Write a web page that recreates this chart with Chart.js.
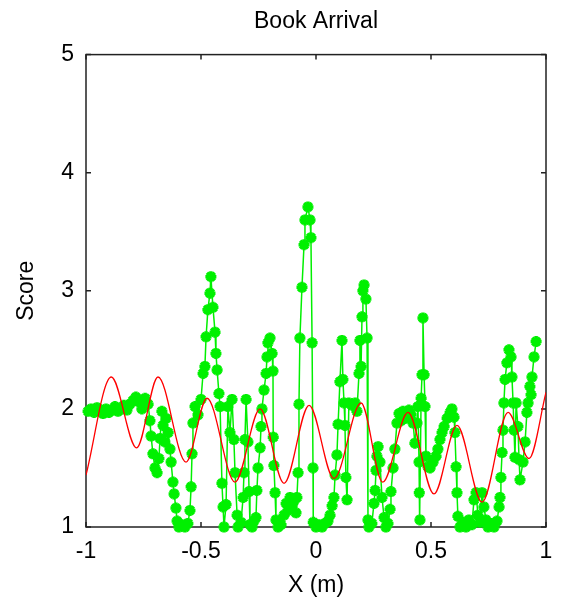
<!DOCTYPE html>
<html>
<head>
<meta charset="utf-8">
<script src="https://cdn.jsdelivr.net/npm/chart.js@4.4.1/dist/chart.umd.min.js"></script>
<style>
  html, body { margin: 0; padding: 0; background: #fff; }
  #wrap { width: 566px; height: 610px; }
</style>
</head>
<body>
<div id="wrap"><canvas id="chart" width="566" height="610"></canvas></div>
<script>
// measured scores (green, star markers)
const scoreX = [
  -0.991, -0.978, -0.965, -0.952, -0.939, -0.926, -0.913, -0.900, -0.887, -0.874,
  -0.861, -0.848, -0.835, -0.822, -0.809, -0.796, -0.783, -0.770, -0.757, -0.743,
  -0.730, -0.722, -0.717, -0.709, -0.700, -0.691, -0.683, -0.678, -0.670, -0.665,
  -0.657, -0.652, -0.643, -0.635, -0.630, -0.622, -0.617, -0.609, -0.604, -0.596,
  -0.583, -0.570, -0.557, -0.548, -0.543, -0.539, -0.535, -0.526, -0.513, -0.500,
  -0.491, -0.483, -0.478, -0.470, -0.461, -0.457, -0.448, -0.439, -0.435, -0.430,
  -0.422, -0.417, -0.409, -0.404, -0.400, -0.391, -0.383, -0.374, -0.365, -0.357,
  -0.352, -0.343, -0.339, -0.326, -0.317, -0.313, -0.309, -0.304, -0.296, -0.291,
  -0.287, -0.278, -0.270, -0.261, -0.257, -0.252, -0.243, -0.239, -0.235, -0.226,
  -0.217, -0.213, -0.209, -0.200, -0.191, -0.187, -0.186, -0.183, -0.178, -0.174,
  -0.165, -0.152, -0.139, -0.130, -0.122, -0.113, -0.104, -0.096, -0.087, -0.083,
  -0.078, -0.074, -0.070, -0.061, -0.052, -0.048, -0.035, -0.026, -0.022, -0.017,
  -0.013, -0.012, 0.000, 0.013, 0.026, 0.039, 0.052, 0.061, 0.070, 0.078,
  0.083, 0.091, 0.096, 0.104, 0.113, 0.117, 0.122, 0.126, 0.130, 0.135,
  0.143, 0.157, 0.170, 0.178, 0.187, 0.191, 0.196, 0.200, 0.204, 0.209,
  0.217, 0.222, 0.226, 0.230, 0.243, 0.252, 0.257, 0.261, 0.265, 0.270,
  0.278, 0.287, 0.296, 0.304, 0.313, 0.322, 0.326, 0.335, 0.343, 0.352,
  0.361, 0.370, 0.378, 0.391, 0.404, 0.413, 0.422, 0.430, 0.439, 0.443,
  0.448, 0.449, 0.452, 0.457, 0.461, 0.465, 0.470, 0.474, 0.478, 0.487,
  0.496, 0.509, 0.522, 0.530, 0.539, 0.548, 0.557, 0.570, 0.583, 0.591,
  0.600, 0.604, 0.609, 0.613, 0.617, 0.626, 0.639, 0.652, 0.665, 0.678,
  0.687, 0.696, 0.704, 0.713, 0.722, 0.730, 0.739, 0.748, 0.761, 0.774,
  0.787, 0.796, 0.800, 0.804, 0.809, 0.813, 0.817, 0.822, 0.830, 0.839,
  0.848, 0.852, 0.857, 0.861, 0.865, 0.870, 0.878, 0.883, 0.887, 0.900,
  0.909, 0.917, 0.922, 0.930, 0.935, 0.939, 0.948, 0.957
];
const scoreY = [
  1.98, 2.00, 1.97, 2.01, 1.99, 1.96, 2.00, 1.97, 1.99, 2.02,
  1.98, 2.00, 2.03, 1.99, 2.04, 2.07, 2.10, 2.06, 2.00, 2.09,
  2.04, 1.90, 1.77, 1.62, 1.50, 1.46, 1.58, 1.75, 1.98, 1.86,
  1.72, 1.92, 1.80, 1.66, 1.55, 1.38, 1.28, 1.16, 1.05, 1.00,
  1.02, 1.00, 1.03, 1.14, 1.34, 1.62, 1.88, 2.02, 1.95, 2.08,
  2.30, 2.36, 2.61, 2.84, 2.98, 3.12, 2.86, 2.65, 2.47, 2.33,
  2.13, 2.02, 1.37, 1.17, 1.00, 1.19, 2.02, 1.80, 2.08, 1.74,
  1.46, 1.10, 1.00, 1.04, 1.25, 1.46, 1.74, 2.08, 1.72, 1.30,
  1.02, 1.00, 1.05, 1.08, 1.31, 1.50, 1.67, 1.85, 2.00, 2.16,
  2.30, 2.44, 2.56, 2.60, 2.47, 2.32, 1.76, 1.52, 1.29, 1.06,
  1.00, 1.02, 1.10, 1.20, 1.14, 1.25, 1.18, 1.22, 1.12, 1.25,
  1.46, 2.04, 2.60, 3.03, 3.39, 3.60, 3.71, 3.60, 3.45, 2.56,
  1.50, 1.04, 1.00, 1.02, 1.00, 1.03, 1.05, 1.10, 1.18, 1.25,
  1.44, 1.61, 1.87, 2.23, 2.58, 2.25, 2.05, 1.86, 1.42, 1.23,
  2.05, 2.03, 2.05, 1.98, 2.30, 2.58, 2.36, 2.78, 3.00, 3.05,
  2.93, 2.60, 1.06, 1.00, 1.03, 1.20, 1.31, 1.48, 1.60, 1.68,
  1.55, 1.25, 1.08, 1.00, 1.03, 1.15, 1.30, 1.50, 1.66, 1.88,
  1.96, 1.90, 1.98, 1.92, 1.99, 1.95, 1.88, 1.71, 1.88, 2.02,
  1.55, 1.29, 1.06, 2.09, 2.29, 2.77, 2.29, 2.02, 1.60, 1.51,
  1.50, 1.55, 1.60, 1.66, 1.74, 1.80, 1.85, 1.92, 1.97, 2.00,
  1.93, 1.80, 1.51, 1.29, 1.09, 1.00, 1.04, 1.00, 1.06, 1.02,
  1.23, 1.29, 1.10, 1.04, 1.29, 1.17, 1.06, 1.00, 1.03, 1.00,
  1.05, 1.17, 1.25, 1.42, 1.63, 1.82, 2.05, 2.25, 2.39, 2.50,
  2.44, 2.27, 2.05, 1.82, 1.59, 2.05, 1.85, 1.57, 1.40, 1.55,
  1.72, 1.97, 2.05, 2.19, 2.12, 2.27, 2.44, 2.57
];

// fitted curve (red) – turning points
const fitX = [-1.0, -0.89, -0.78, -0.687, -0.565, -0.474, -0.352, -0.243, -0.139, -0.03,
              0.078, 0.196, 0.29, 0.40, 0.513, 0.613, 0.722, 0.835, 0.926, 1.0];
const fitY = [1.44, 2.27, 1.67, 2.27, 1.55, 2.09, 1.38, 2.00, 1.37, 2.03,
              1.41, 2.05, 1.38, 1.97, 1.28, 1.86, 1.21, 1.97, 1.58, 2.14];

const xTicks = [-1, -0.5, 0, 0.5, 1];
const yTicks = [1, 2, 3, 4, 5];

const FONT = "'Liberation Sans', Arial, sans-serif";
const GREEN = '#00f000';

// black box round the plot with inward ticks, like the original
const framePlugin = {
  id: 'frame',
  beforeDatasetsDraw(chart) {
    const { ctx, chartArea: a, scales: { x, y } } = chart;
    ctx.save();
    ctx.strokeStyle = '#222';
    ctx.lineWidth = 1.5;
    ctx.strokeRect(a.left, a.top, a.right - a.left, a.bottom - a.top);
    ctx.beginPath();
    xTicks.forEach(v => {
      const px = x.getPixelForValue(v);
      ctx.moveTo(px, a.bottom); ctx.lineTo(px, a.bottom - 5);
      ctx.moveTo(px, a.top); ctx.lineTo(px, a.top + 5);
    });
    yTicks.forEach(v => {
      const py = y.getPixelForValue(v);
      ctx.moveTo(a.left, py); ctx.lineTo(a.left + 5, py);
      ctx.moveTo(a.right, py); ctx.lineTo(a.right - 5, py);
    });
    ctx.stroke();
    ctx.restore();
  }
};

new Chart(document.getElementById('chart'), {
  type: 'scatter',
  data: {
    datasets: [
      {
        label: 'fit',
        data: fitX.map((v, i) => ({ x: v, y: fitY[i] })),
        showLine: true,
        borderColor: '#ff0000',
        borderWidth: 1.3,
        pointRadius: 0,
        cubicInterpolationMode: 'monotone',
        order: 0
      },
      {
        label: 'score',
        data: scoreX.map((v, i) => ({ x: v, y: scoreY[i] })),
        showLine: true,
        borderColor: GREEN,
        backgroundColor: GREEN,
        borderWidth: 1.5,
        pointStyle: 'star',
        pointRadius: 5.5,
        pointBorderWidth: 3.5,
        pointBorderColor: GREEN,
        pointBackgroundColor: GREEN,
        clip: false,
        order: 1
      }
    ]
  },
  options: {
    responsive: false,
    animation: false,
    layout: { padding: { right: 20, left: 0, top: 0, bottom: 0 } },
    plugins: {
      legend: { display: false },
      tooltip: { enabled: false },
      title: {
        display: true,
        fullSize: false,
        text: 'Book Arrival',
        color: '#000',
        font: { family: FONT, size: 23, weight: 'normal' },
        padding: { top: 8, bottom: 19 }
      }
    },
    scales: {
      x: {
        type: 'linear',
        min: -1, max: 1,
        afterBuildTicks: s => { s.ticks = xTicks.map(v => ({ value: v })); },
        afterFit: s => { s.height = 83; },
        grid: { display: false, drawTicks: false },
        border: { display: false },
        ticks: {
          color: '#000',
          padding: 11,
          font: { family: FONT, size: 23 },
          callback: v => String(v)
        },
        title: {
          display: true,
          text: 'X (m)',
          color: '#000',
          font: { family: FONT, size: 23 },
          padding: { top: 0, bottom: 11 }
        }
      },
      y: {
        type: 'linear',
        min: 1, max: 5,
        afterBuildTicks: s => { s.ticks = yTicks.map(v => ({ value: v })); },
        afterFit: s => { s.width = 86; },
        grid: { display: false, drawTicks: false },
        border: { display: false },
        ticks: {
          color: '#000',
          padding: 12,
          font: { family: FONT, size: 23 },
          callback: v => String(v)
        },
        title: {
          display: true,
          text: 'Score',
          color: '#000',
          font: { family: FONT, size: 23 },
          padding: { top: 13, bottom: 0 }
        }
      }
    }
  },
  plugins: [framePlugin]
});
</script>
</body>
</html>
